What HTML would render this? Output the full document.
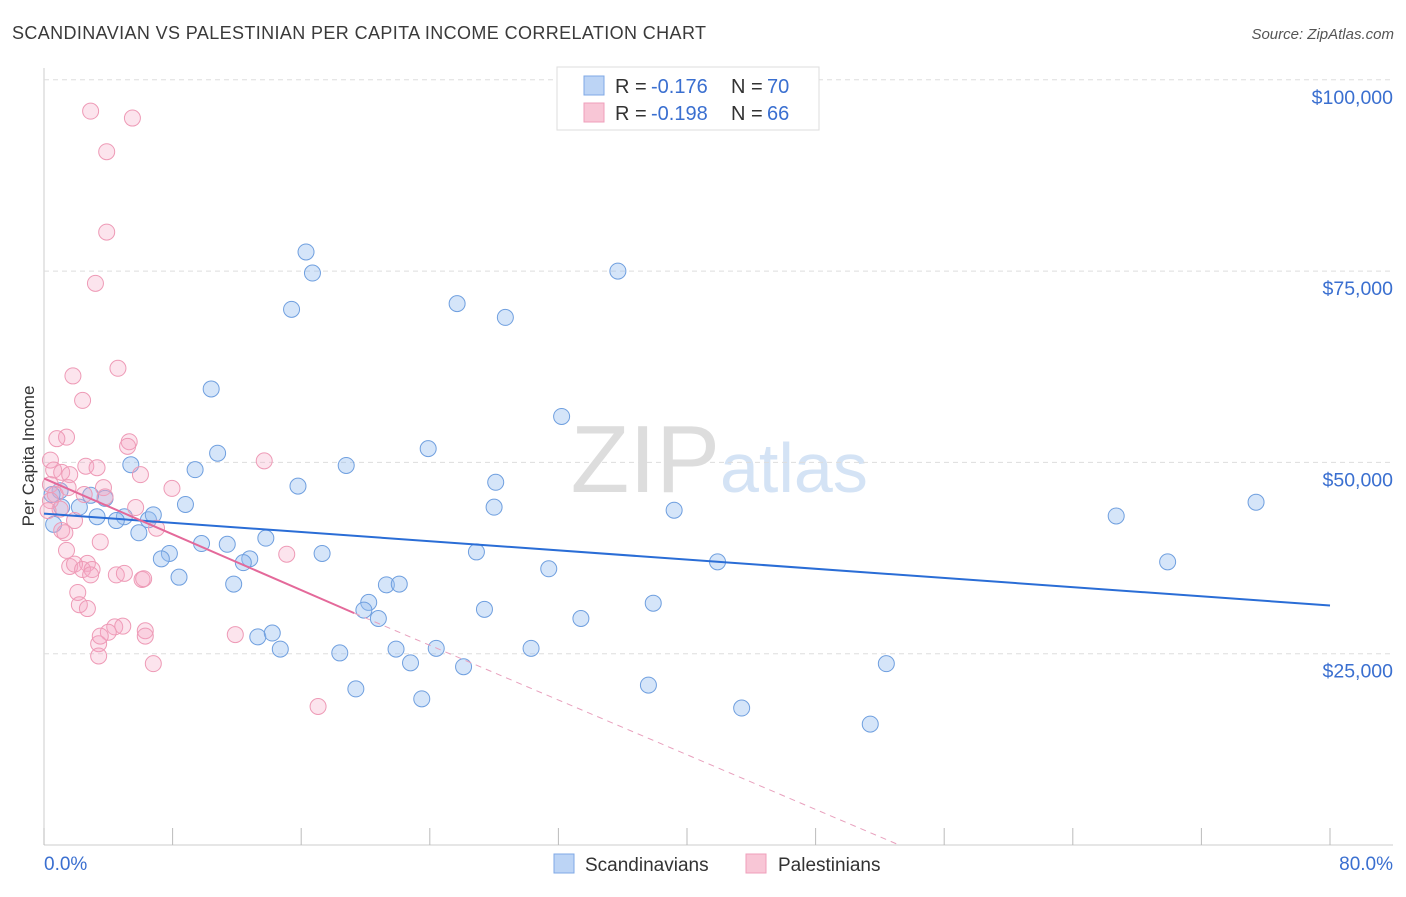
<!DOCTYPE html>
<html><head><meta charset="utf-8"><style>
body{margin:0;background:#fff;font-family:"Liberation Sans",sans-serif;}
svg text{font-family:"Liberation Sans",sans-serif;}
</style></head><body>
<svg id="c" width="1406" height="892">
<text x="12" y="39" font-size="18" fill="#3a3a3a" textLength="694">SCANDINAVIAN VS PALESTINIAN PER CAPITA INCOME CORRELATION CHART</text>
<text x="1394" y="39" font-size="15" fill="#555" text-anchor="end" font-style="italic">Source: ZipAtlas.com</text>
<text x="34" y="456" font-size="17" fill="#333" text-anchor="middle" transform="rotate(-90 34 456)">Per Capita Income</text>
<text x="720" y="492" font-size="96" fill="#ddd" text-anchor="end" font-family="Liberation Serif">ZIP</text>
<text x="720" y="492" font-size="70" fill="#d4e3f5">atlas</text>
<g id="grid"></g><g id="pts"></g><g id="lines"></g>
<g>
<rect x="557" y="67" width="262" height="63" fill="#fff" stroke="#ddd"/>
<rect x="584" y="76" width="20" height="19" fill="#bcd4f5" stroke="#7fa8e6"/>
<rect x="584" y="103" width="20" height="19" fill="#f8c6d6" stroke="#ef9fbb"/>
<text x="615" y="93" font-size="20" fill="#333">R = </text><text x="651" y="93" font-size="20" fill="#3a6fd0">-0.176</text>
<text x="731" y="93" font-size="20" fill="#333">N = </text><text x="767" y="93" font-size="20" fill="#3a6fd0">70</text>
<text x="615" y="120" font-size="20" fill="#333">R = </text><text x="651" y="120" font-size="20" fill="#3a6fd0">-0.198</text>
<text x="731" y="120" font-size="20" fill="#333">N = </text><text x="767" y="120" font-size="20" fill="#3a6fd0">66</text>
</g>
<g>
<rect x="554" y="854" width="20" height="19" fill="#bcd4f5" stroke="#7fa8e6"/>
<text x="585" y="871" font-size="19" fill="#333">Scandinavians</text>
<rect x="746" y="854" width="20" height="19" fill="#f8c6d6" stroke="#ef9fbb"/>
<text x="778" y="871" font-size="19" fill="#333">Palestinians</text>
</g>
</svg>
<script>
const yTicks=[25000,50000,75000,100000];
const yTickLabels=["$25,000","$50,000","$75,000","$100,000"];
const xTicks=[0,8,16,24,32,40,48,56,64,72,80];
const scandX=[16.3,16.7,15.4,25.7,28.7,35.7,10.4,32.2,23.9,10.8,5.4,9.4,18.8,15.8,28.1,8.8,28.0,39.2,66.7,75.4,1.0,2.2,3.8,2.9,5.0,3.3,4.5,6.5,6.8,5.9,9.8,11.4,13.8,7.8,7.3,12.8,12.4,17.3,26.9,31.4,41.9,69.9,8.4,11.8,21.3,22.1,20.2,19.9,20.8,27.4,33.4,37.9,13.3,14.2,14.7,18.4,21.9,24.4,30.3,22.8,26.1,52.4,19.4,23.5,37.6,43.4,51.4,0.6,1.1,0.5];
const scandY=[77500,74750,70000,70750,68950,75000,59600,56000,51800,51200,49700,49050,49600,46900,47400,44500,44150,43750,43000,44800,46300,44150,45300,45700,42900,42900,42400,42500,43150,40800,39400,39300,40100,38100,37400,37400,36900,38100,38300,36100,37000,37000,35000,34100,34000,34100,31700,30700,29600,30800,29600,31600,27200,27700,25600,25100,25600,25700,25700,23800,23300,23700,20400,19100,20900,17900,15800,41900,44150,45800];
const palX=[2.9,5.5,3.9,3.9,3.2,4.6,1.8,2.4,1.4,5.3,5.2,0.4,0.6,1.1,1.6,2.6,3.3,6.0,7.96,13.7,0.4,0.7,1.5,2.5,3.7,3.8,5.7,1.0,1.9,1.1,1.3,7.0,3.5,2.7,1.6,1.9,2.4,2.99,2.9,4.5,5.0,6.1,6.2,15.1,2.1,2.2,2.7,4.4,4.9,4.0,3.4,3.5,6.3,6.3,11.9,3.4,6.8,17.05,0.4,0.25,1.4,0.8];
const palY=[95900,95000,90600,80100,73400,62300,61300,58100,53300,52700,52100,50300,49000,48700,48400,49500,49300,48400,46600,50200,47100,45800,46700,45800,46700,45500,44100,43900,42400,41100,40800,41400,39600,36800,36400,36700,36000,36000,35300,35300,35500,34700,34800,38000,33000,31400,30900,28500,28600,27800,26300,27300,28000,27300,27500,24700,23700,18100,45000,43700,38500,53100];
const X=v=>44+v*16.075, Y=v=>845-v/25000*191.3;
const NS="http://www.w3.org/2000/svg";
function mk(t,a,p){const e=document.createElementNS(NS,t);for(const k in a)e.setAttribute(k,a[k]);p.appendChild(e);return e;}
const g=document.getElementById('grid');
mk('line',{x1:44,y1:68,x2:44,y2:845,stroke:'#ccc'},g);
mk('line',{x1:44,y1:845,x2:1393,y2:845,stroke:'#ccc'},g);
yTicks.forEach((v,i)=>{
 const l=mk('line',{x1:44,y1:Y(v),x2:1393,y2:Y(v),stroke:'#ddd','stroke-dasharray':'5,4'},g);
 
 
 const t=mk('text',{x:1393,y:Y(v)+24,'font-size':19.5,fill:'#3a6fd0','text-anchor':'end'},g);t.textContent=yTickLabels[i];
 
 
});
xTicks.forEach(v=>{
 const l=mk('line',{x1:X(v),y1:828,x2:X(v),y2:845,stroke:'#bbb'},g);
 
 
});
const t0=mk('text',{x:44,y:870,'font-size':19,fill:'#3a6fd0'},g);t0.textContent="0.0%";


const t1=mk('text',{x:1393,y:870,'font-size':19,fill:'#3a6fd0','text-anchor':'end'},g);t1.textContent="80.0%";


const p=document.getElementById('pts');
scandX.forEach((x,i)=>{const c=mk('circle',{cx:X(x),cy:Y(scandY[i]),r:8,fill:'rgba(150,190,240,0.4)',stroke:'#6f9fdf','stroke-width':1},p);
 
 });
palX.forEach((x,i)=>{const c=mk('circle',{cx:X(x),cy:Y(palY[i]),r:8,fill:'rgba(245,165,195,0.3)',stroke:'#ee9ab6','stroke-width':1},p);
 
 });
const L=document.getElementById('lines');
const b=mk('line',{x1:X(0),y1:Y(43300),x2:X(80),y2:Y(31300),stroke:'#2a6dd6','stroke-width':2},L);


const pk=mk('line',{x1:X(0),y1:Y(47900),x2:X(19.3),y2:Y(30300),stroke:'#e4699a','stroke-width':2},L);


const pd=mk('line',{x1:X(19.3),y1:Y(30300),x2:X(53.2),y2:Y(0),stroke:'#e8a0bd','stroke-width':1,'stroke-dasharray':'6,5'},L);


</script>
</body></html>
